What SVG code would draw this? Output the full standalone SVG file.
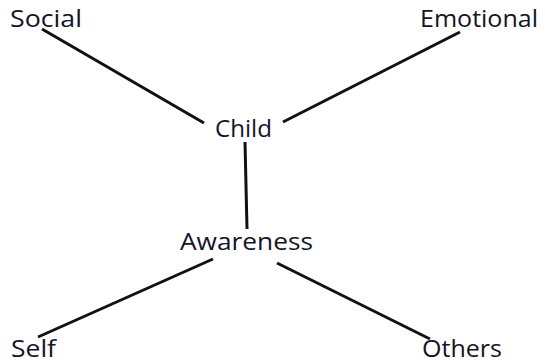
<svg xmlns="http://www.w3.org/2000/svg" width="545" height="364" viewBox="0 0 545 364">
<style>
.lbl{font-family:"Open Sans","Liberation Sans",sans-serif;font-size:24px;fill:#141428}
.edge{stroke:#111;stroke-width:3;stroke-linecap:butt;fill:none}
</style>
<rect width="545" height="364" fill="#fff"/>
<g id="connectors">
<line class="edge" x1="42" y1="29" x2="204" y2="123"/>
<line class="edge" x1="460" y1="32" x2="283" y2="122"/>
<line class="edge" x1="245" y1="142" x2="247" y2="229"/>
<line class="edge" x1="213" y1="259" x2="38" y2="337"/>
<line class="edge" x1="277" y1="263" x2="430" y2="339"/>
</g>
<g id="social"><text class="lbl" x="10" y="27" textLength="72" lengthAdjust="spacingAndGlyphs">Social</text></g>
<g id="emotional"><text class="lbl" x="420" y="27" textLength="118" lengthAdjust="spacingAndGlyphs">Emotional</text></g>
<g id="child"><text class="lbl" x="215" y="137" textLength="57" lengthAdjust="spacingAndGlyphs">Child</text></g>
<g id="awareness"><text class="lbl" x="180" y="250" textLength="133" lengthAdjust="spacingAndGlyphs">Awareness</text></g>
<g id="self"><text class="lbl" x="11" y="357" textLength="45" lengthAdjust="spacingAndGlyphs">Self</text></g>
<g id="others"><text class="lbl" x="422" y="357" textLength="80" lengthAdjust="spacingAndGlyphs">Others</text></g>
</svg>
